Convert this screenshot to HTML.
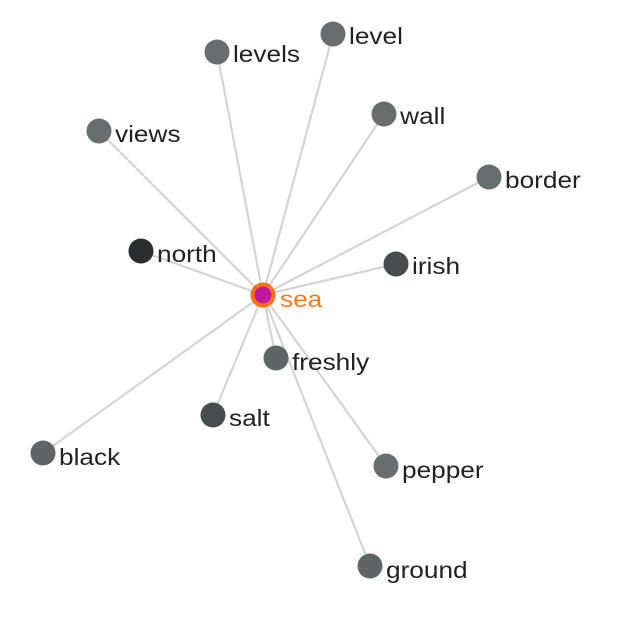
<!DOCTYPE html>
<html><head><meta charset="utf-8"><style>
html,body{margin:0;padding:0;background:#fff;}
svg text{font-family:"Liberation Sans",sans-serif;font-size:23px;fill:#222;transform-box:fill-box;transform-origin:0 100%;transform:scaleX(1.14);}
</style></head><body>
<svg width="633" height="614" viewBox="0 0 633 614">
<g stroke="#d4d4d4" stroke-width="2.2">
<line x1="263" y1="295" x2="217" y2="52"/>
<line x1="263" y1="295" x2="333" y2="34"/>
<line x1="263" y1="295" x2="384" y2="114"/>
<line x1="263" y1="295" x2="489" y2="177"/>
<line x1="263" y1="295" x2="99" y2="131"/>
<line x1="263" y1="295" x2="141" y2="251"/>
<line x1="263" y1="295" x2="396" y2="264"/>
<line x1="263" y1="295" x2="276" y2="358"/>
<line x1="263" y1="295" x2="213" y2="415"/>
<line x1="263" y1="295" x2="43" y2="453"/>
<line x1="263" y1="295" x2="386" y2="466"/>
<line x1="263" y1="295" x2="370" y2="566"/>
</g>
<g>
<circle cx="217" cy="52" r="12.5" fill="#686d6e"/>
<circle cx="333" cy="34" r="12.5" fill="#686d6e"/>
<circle cx="384" cy="114" r="12.5" fill="#686d6e"/>
<circle cx="489" cy="177" r="12.5" fill="#686d6e"/>
<circle cx="99" cy="131" r="12.5" fill="#686d6e"/>
<circle cx="141" cy="251" r="12.5" fill="#2b2d2e"/>
<circle cx="396" cy="264" r="12.5" fill="#474c4d"/>
<circle cx="276" cy="358" r="12.5" fill="#5f6566"/>
<circle cx="213" cy="415" r="12.5" fill="#474c4d"/>
<circle cx="43" cy="453" r="12.5" fill="#5f6566"/>
<circle cx="386" cy="466" r="12.5" fill="#686d6e"/>
<circle cx="370" cy="566" r="12.5" fill="#5f6566"/>
<circle cx="263" cy="295" r="10.5" fill="#c0189f" stroke="#ff7010" stroke-width="4"/>
</g>
<text x="233" y="62">levels</text>
<text x="349" y="44">level</text>
<text x="400" y="124">wall</text>
<text x="505" y="188">border</text>
<text x="115" y="142">views</text>
<text x="157" y="262">north</text>
<text x="412" y="274">irish</text>
<text x="292" y="370">freshly</text>
<text x="229" y="426">salt</text>
<text x="59" y="465">black</text>
<text x="402" y="478">pepper</text>
<text x="386" y="578">ground</text>
<text x="280" y="307" style="fill:#ff7a1a">sea</text>
</svg>
</body></html>
